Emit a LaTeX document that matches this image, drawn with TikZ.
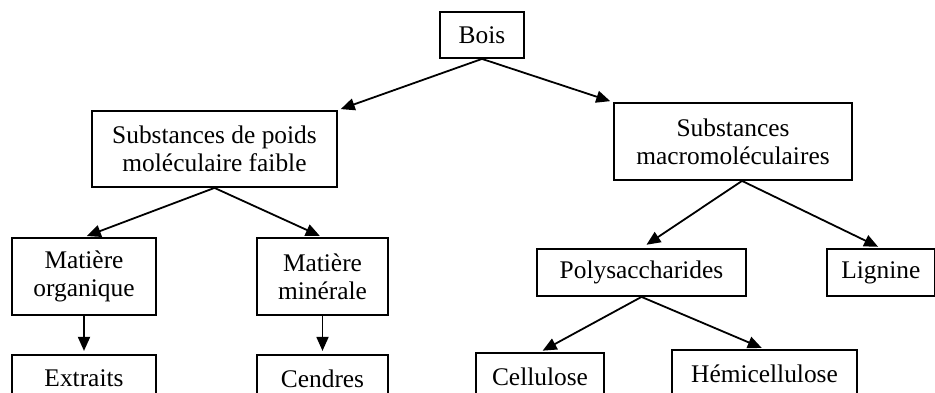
\documentclass[tikz,border=0pt]{standalone}
\usepackage{fontspec}
\setmainfont{Liberation Serif}
\usepackage{tikz}
\usetikzlibrary{positioning, arrows.meta}
\tikzset{
    box/.style={rectangle, draw=black, line width=0.9pt, fill=white, align=center, inner sep=0pt, font=\fontsize{12.7}{14}\selectfont},
    arrow/.style={-{Triangle[length=7pt, width=6pt]}, line width=0.9pt, shorten >=1.5pt}
}
\begin{document}
\begin{tikzpicture}[x=0.5pt, y=-0.5pt, node distance=1.5cm]
        \useasboundingbox (0,0) rectangle (935,392);
        \clip (0,0) rectangle (935,392);
        \node[box, minimum width=42pt, minimum height=23pt] (Bois) at (482,35) {Bois};
        \node[box, minimum width=122.5pt, minimum height=38pt] (LowMW) at (214.5,149) {Substances de poids\\mol\'eculaire faible};
        \node[box, minimum width=119pt, minimum height=38.5pt] (Macro) at (733,141.5) {Substances\\macromol\'eculaires};
        
        \node[box, minimum width=72pt, minimum height=38.5pt] (Organic) at (84,276.5) {Mati\`ere\\organique};
        \node[box, minimum width=65.5pt, minimum height=38.5pt] (Mineral) at (322.5,276.5) {Mati\`ere\\min\'erale};
        \node[box, minimum width=72pt, minimum height=23.5pt, below=19pt of Organic] (Extracts) {Extraits};
        \node[box, minimum width=65.5pt, minimum height=23.5pt, below=19pt of Mineral] (Ash) {Cendres};
        
        \node[box, minimum width=104.5pt, minimum height=23.5pt] (Poly) at (641.5,272.5) {Polysaccharides};
        \node[box, minimum width=54pt, minimum height=23.5pt, right=39.5pt of Poly] (Lignin) {Lignine};
        \node[box, minimum width=64pt, minimum height=23.5pt] (Cell) at (540,376.5) {Cellulose};
        \node[box, minimum width=92.5pt, minimum height=23.5pt] (Hemi) at (764.5,373.5) {H\'emicellulose};
        
        \draw[arrow] (Bois.south) -- (LowMW.north east);
        \draw[arrow] (Bois.south) -- (Macro.north west);
        \draw[arrow] (LowMW.south) -- (Organic.north);
        \draw[arrow] (LowMW.south) -- (Mineral.north);
        \draw[arrow] (Organic) -- (Extracts);
        \draw[arrow] (Mineral) -- (Ash);
        \draw[arrow, shorten >=3pt] ([xshift=4.5pt]Macro.south) -- (Poly.north);
        \draw[arrow] ([xshift=4.5pt]Macro.south) -- (Lignin.north);
        \draw[arrow] (Poly.south) -- (Cell.north);
        \draw[arrow] (Poly.south) -- (Hemi.north);
    \end{tikzpicture}
\end{document}
